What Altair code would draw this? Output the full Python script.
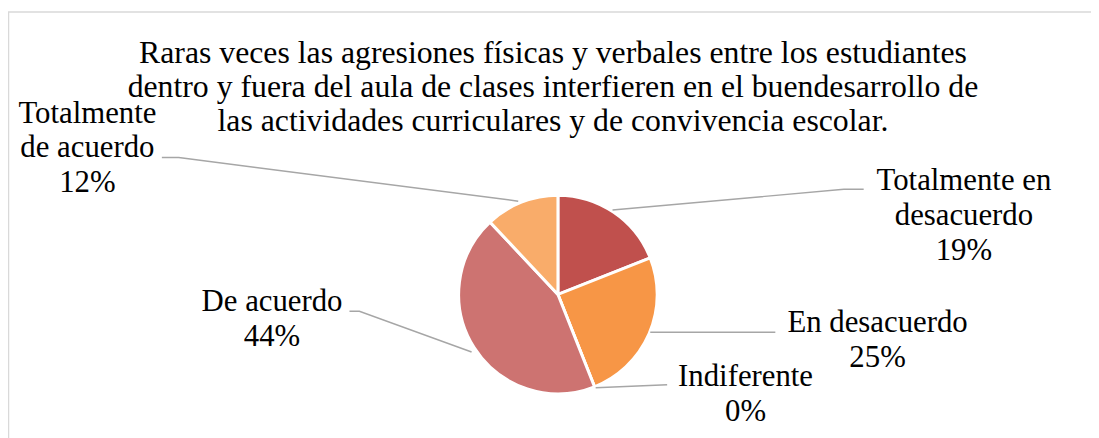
import altair as alt
import pandas as pd

# ---- data ----
categories = ["Totalmente en desacuerdo", "En desacuerdo", "Indiferente", "De acuerdo", "Totalmente de acuerdo"]
label_text = ["Totalmente en\ndesacuerdo", "En desacuerdo", "Indiferente", "De acuerdo", "Totalmente\nde acuerdo"]
percent = [19, 25, 0, 44, 12]
colors = ["#C0504D", "#F79646", "#9BBB59", "#CD7371", "#F9AC6A"]
title_lines = [
    "Raras veces las agresiones físicas y verbales entre los estudiantes",
    "dentro y fuera del aula de clases interfieren en el buendesarrollo de",
    "las actividades curriculares y de convivencia escolar.",
]

# ---- layout (pixel positions in the view) ----
W, H = 1091, 430
CX, CY, R = 554, 287, 100
label_pos = [(963, 182), (876, 325), (743, 379), (266, 304), (80, 114)]
leaders = [
    [(609, 202), (842, 181), (862, 181)],
    [(647, 325), (773, 325)],
    [(592, 381), (664, 378)],
    [(467, 345), (354, 304), (344, 304)],
    [(514, 193), (172, 149), (155, 149)],
]
FONT = "Liberation Serif"
FS = 31

pie_df = pd.DataFrame({"cat": categories, "value": percent, "order": list(range(len(categories)))})
lab_df = pd.DataFrame({
    "cat": categories,
    "txt": [f"{t}\n{p}%" for t, p in zip(label_text, percent)],
    "lx": [p[0] for p in label_pos],
    "ly": [p[1] for p in label_pos],
})
lead_rows = []
for i, pts in enumerate(leaders):
    for j, (x, y) in enumerate(pts):
        lead_rows.append({"id": i, "k": j, "x": x, "y": y})
lead_df = pd.DataFrame(lead_rows)

xs = alt.Scale(domain=[0, W], range=[0, W])
ys = alt.Scale(domain=[0, H], range=[0, H])

border = alt.Chart(pd.DataFrame({"a": [0]})).mark_rect(
    fill=None, stroke="#D9D9D9", strokeWidth=1.5
).encode(x=alt.value(0.5), x2=alt.value(W + 20), y=alt.value(2.5), y2=alt.value(H + 20))

pie = alt.Chart(pie_df).mark_arc(outerRadius=R, stroke="white", strokeWidth=3).encode(
    theta=alt.Theta("value:Q", stack=True),
    order=alt.Order("order:Q"),
    color=alt.Color("cat:N", scale=alt.Scale(domain=categories, range=colors), legend=None),
    x=alt.value(CX),
    y=alt.value(CY),
)

lines = alt.Chart(lead_df).mark_line(color="#A6A6A6", strokeWidth=1.5).encode(
    x=alt.X("x:Q", scale=xs, axis=None),
    y=alt.Y("y:Q", scale=ys, axis=None),
    detail="id:N",
    order="k:Q",
)

labels = alt.Chart(lab_df).mark_text(
    font=FONT, fontSize=FS, lineBreak="\n", lineHeight=35, align="center",
    baseline="alphabetic", color="#000000"
).encode(
    x=alt.X("lx:Q", scale=xs, axis=None),
    y=alt.Y("ly:Q", scale=ys, axis=None),
    text="txt:N",
)

title = alt.Chart(pd.DataFrame({"t": ["\n".join(title_lines)]})).mark_text(
    font=FONT, fontSize=32, lineBreak="\n", lineHeight=34, align="center",
    baseline="alphabetic", color="#000000"
).encode(x=alt.value(549), y=alt.value(54), text="t:N")

chart = alt.layer(border, pie, lines, labels, title).properties(
    width=W, height=H, padding=0, autosize="none"
).configure_view(stroke=None)

chart.save("out.html", embed_options={"renderer": "svg", "actions": False})
